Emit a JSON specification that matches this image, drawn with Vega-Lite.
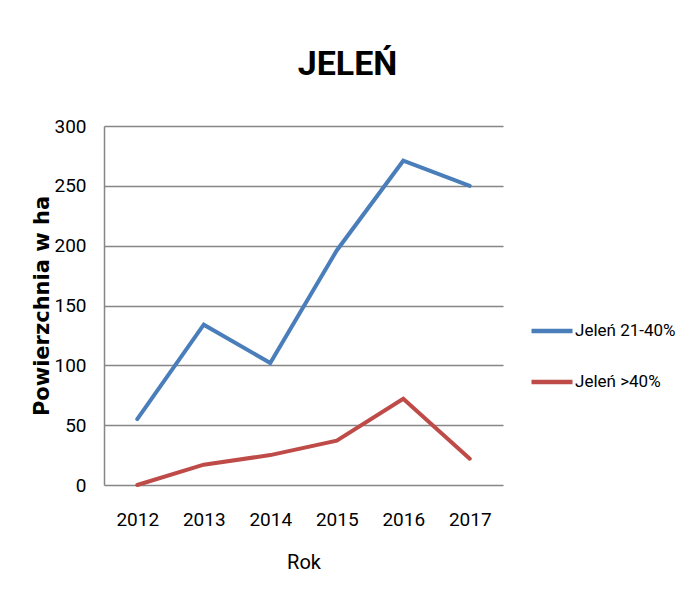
{
  "$schema": "https://vega.github.io/schema/vega-lite/v6.json",
  "autosize": "none",
  "width": 399,
  "height": 359,
  "padding": {"left": 104, "top": 126, "right": 183, "bottom": 129},
  "background": "white",
  "title": {
    "text": "JELEŃ",
    "font": "Roboto",
    "fontSize": 34,
    "fontWeight": "bold",
    "color": "#000000",
    "anchor": "middle",
    "baseline": "alphabetic",
    "dx": 44,
    "offset": 8
  },
  "data": {
    "values": [
      {"Rok": "2012", "seria": "Jeleń 21-40%", "ha": 55},
      {"Rok": "2013", "seria": "Jeleń 21-40%", "ha": 134},
      {"Rok": "2014", "seria": "Jeleń 21-40%", "ha": 102},
      {"Rok": "2015", "seria": "Jeleń 21-40%", "ha": 196},
      {"Rok": "2016", "seria": "Jeleń 21-40%", "ha": 271},
      {"Rok": "2017", "seria": "Jeleń 21-40%", "ha": 250},
      {"Rok": "2012", "seria": "Jeleń >40%", "ha": 0},
      {"Rok": "2013", "seria": "Jeleń >40%", "ha": 17},
      {"Rok": "2014", "seria": "Jeleń >40%", "ha": 25},
      {"Rok": "2015", "seria": "Jeleń >40%", "ha": 37},
      {"Rok": "2016", "seria": "Jeleń >40%", "ha": 72},
      {"Rok": "2017", "seria": "Jeleń >40%", "ha": 22}
    ]
  },
  "mark": {"type": "line", "strokeWidth": 4, "strokeCap": "round", "strokeJoin": "miter"},
  "encoding": {
    "x": {
      "field": "Rok",
      "type": "ordinal",
      "scale": {"type": "point", "padding": 0.5},
      "axis": {
        "title": "Rok",
        "labelAngle": 0,
        "labelFont": "Roboto",
        "labelFontSize": 19,
        "labelColor": "#000000",
        "labelPadding": 25,
        "ticks": false,
        "domain": false,
        "titleFont": "Roboto",
        "titleFontSize": 20,
        "titleFontWeight": "normal",
        "titleColor": "#000000",
        "titlePadding": 23
      }
    },
    "y": {
      "field": "ha",
      "type": "quantitative",
      "scale": {"domain": [0, 300], "nice": false},
      "axis": {
        "title": "Powierzchnia w ha",
        "values": [0, 50, 100, 150, 200, 250, 300],
        "labelFont": "Roboto",
        "labelFontSize": 19,
        "labelColor": "#000000",
        "labelPadding": 18,
        "ticks": false,
        "domain": true,
        "domainColor": "#868686",
        "domainWidth": 1.5,
        "grid": true,
        "gridColor": "#868686",
        "gridWidth": 1.5,
        "gridOpacity": 1,
        "titleFont": "DejaVu Sans",
        "titleFontSize": 21,
        "titleFontWeight": "bold",
        "titleColor": "#000000",
        "titlePadding": 1
      }
    },
    "color": {
      "field": "seria",
      "type": "nominal",
      "scale": {"domain": ["Jeleń 21-40%", "Jeleń >40%"], "range": ["#4A7EBB", "#BE4B48"]},
      "legend": {
        "title": null,
        "orient": "none",
        "legendX": 425,
        "legendY": 182,
        "symbolType": "stroke",
        "symbolSize": 1681,
        "symbolStrokeWidth": 4.5,
        "labelFont": "Roboto",
        "labelFontSize": 17,
        "labelColor": "#000000",
        "labelOffset": 0,
        "rowPadding": 19,
        "padding": 0
      }
    }
  },
  "config": {
    "view": {"stroke": null},
    "axis": {"labelLimit": 300}
  }
}
